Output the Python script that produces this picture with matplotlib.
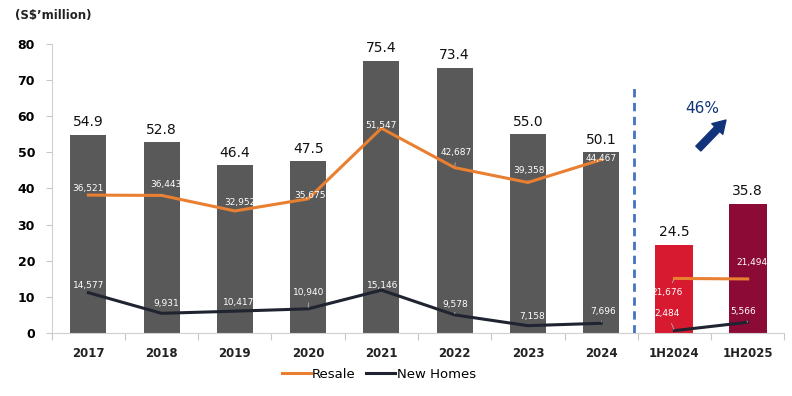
import matplotlib.pyplot as plt

# data
years = ['2017', '2018', '2019', '2020', '2021', '2022', '2023', '2024']
halves = ['1H2024', '1H2025']
totals = [54.9, 52.8, 46.4, 47.5, 75.4, 73.4, 55.0, 50.1]
half_totals = [24.5, 35.8]
resale = [36521, 36443, 32952, 35675, 51547, 42687, 39358, 44467]
new_homes = [14577, 9931, 10417, 10940, 15146, 9578, 7158, 7696]
half_resale = [21676, 21494]
half_new_homes = [2484, 5566]

# label offsets in pixels (dx, dy) and whether a leader line is drawn
resale_off = [(0, 7, 0), (4, 11, 1), (5, 8, 0), (2, 3, 0), (0, 3, 0), (2, 15, 1), (1, 12, 1), (0, 1, 0)]
new_off = [(0, 7, 0), (5, 10, 0), (4, 9, 0), (1, 16, 1), (1, 5, 0), (1, 10, 1), (4, 9, 0), (2, 12, 1)]
half_resale_off = [(-7, -14, 1), (4, 16, 0)]
half_new_off = [(-7, 17, 1), (-5, 11, 1)]

ORANGE = '#e97f30'
DARK = '#1f2430'
GREY = '#595959'

fig = plt.figure(figsize=(7.92, 3.96), dpi=100)
ax = fig.add_axes([0.0653, 0.159, 0.925, 0.730])

n = len(years)
x_main = list(range(n))
x_half = [n, n + 1]

ax.bar(x_main, totals, width=0.49, color=GREY, zorder=2)
ax.bar(x_half, half_totals, width=0.52, color=['#d71a30', '#8c0a36'], zorder=2)

for xi, v in zip(x_main + x_half, totals + half_totals):
    ax.text(xi, v + 1.5, f'{v:.1f}', ha='center', va='bottom', fontsize=10, color='#111111')

ax.set_xlim(-0.5, n + 1.5)
ax.set_ylim(0, 80)
ax.set_yticks(range(0, 81, 10))
ax.set_xticks([i + 0.5 for i in range(-1, n + 2)], minor=False)
ax.set_xticklabels([])
ax.set_xticks(x_main + x_half, minor=True)
ax.set_xticklabels(years + halves, minor=True, fontsize=8.5, fontweight='bold', color='#222222')
ax.tick_params(axis='x', which='minor', length=0, pad=10)
ax.tick_params(axis='x', which='major', length=5, color='#c8c8c8')
ax.tick_params(axis='y', length=4, color='#c8c8c8', labelsize=9, pad=8)
for lab in ax.get_yticklabels():
    lab.set_fontweight('bold')
for s in ['top', 'right']:
    ax.spines[s].set_visible(False)
ax.spines['left'].set_color('#d0d0d0')
ax.spines['bottom'].set_color('#d0d0d0')

ax.axvline(n - 0.55, ymin=0, ymax=0.86, color='#4472c4', linestyle=(0, (3, 2)), linewidth=2, zorder=3)

# hidden secondary scales for the transaction counts
ax2 = ax.twinx()
ax2.set_ylim(5500, 70500)
ax3 = ax.twinx()
ax3.set_ylim(1600, 107900)
for a in (ax2, ax3):
    a.axis('off')
    a.set_xlim(ax.get_xlim())

l1, = ax2.plot(x_main, resale, color=ORANGE, linewidth=2.2, label='Resale', zorder=4)
l2, = ax2.plot(x_main, new_homes, color=DARK, linewidth=2.2, label='New Homes', zorder=4)
ax3.plot(x_half, half_resale, color=ORANGE, linewidth=2.2, zorder=4)
ax3.plot(x_half, half_new_homes, color=DARK, linewidth=2.2, zorder=4)


def label_points(a, xs, vals, offs):
    for xi, v, (dx, dy, lead) in zip(xs, vals, offs):
        props = dict(arrowstyle='-', color='#b0b0b0', lw=0.6, shrinkA=2, shrinkB=1) if lead else None
        a.annotate(f'{v:,}', (xi, v), xytext=(dx, dy), textcoords='offset pixels',
                   ha='center', va='center', fontsize=6.5, color='white', arrowprops=props, zorder=5)


label_points(ax2, x_main, resale, resale_off)
label_points(ax2, x_main, new_homes, new_off)
label_points(ax3, x_half, half_resale, half_resale_off)
label_points(ax3, x_half, half_new_homes, half_new_off)

# growth arrow
ax.annotate('', xy=(n + 0.73, 59.5), xytext=(n + 0.3, 50.5),
            arrowprops=dict(arrowstyle='simple,head_width=1.1,head_length=0.9,tail_width=0.5',
                            color='#12337a'), zorder=5)
ax.text(n + 0.38, 62, '46%', ha='center', va='center', fontsize=11, color='#12337a')

fig.text(0.019, 0.962, '(S$\u2019million)', fontsize=8.5, fontweight='bold', color='#222222',
         ha='left', va='center')

fig.legend(handles=[l1, l2], loc='center', bbox_to_anchor=(0.478, 0.055), ncol=2, frameon=False,
           fontsize=9.5, handlelength=2.2, handletextpad=0.1, columnspacing=0.8)

fig.savefig('out.png', dpi=100)
